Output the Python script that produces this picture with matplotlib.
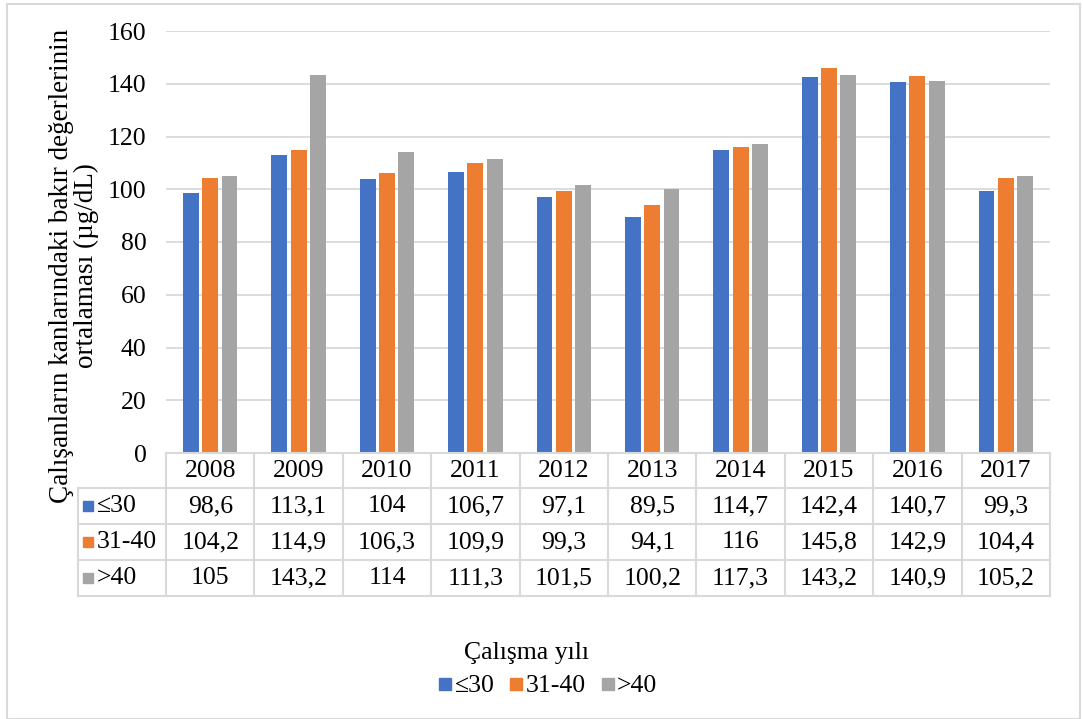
import matplotlib
matplotlib.use("Agg")
import matplotlib.pyplot as plt
from matplotlib.lines import Line2D
from matplotlib.patches import Rectangle
import matplotlib.transforms as mtransforms
import numpy as np

plt.rcParams['font.family'] = ['Liberation Serif', 'DejaVu Serif']

years = ["2008", "2009", "2010", "2011", "2012", "2013", "2014", "2015", "2016", "2017"]
series_names = ["≤30", "31-40", ">40"]
le30 = [98.6, 113.1, 104, 106.7, 97.1, 89.5, 114.7, 142.4, 140.7, 99.3]
g31_40 = [104.2, 114.9, 106.3, 109.9, 99.3, 94.1, 116, 145.8, 142.9, 104.4]
gt40 = [105, 143.2, 114, 111.3, 101.5, 100.2, 117.3, 143.2, 140.9, 105.2]
colors = ["#4472C4", "#ED7D31", "#A5A5A5"]
yticks = [0, 20, 40, 60, 80, 100, 120, 140, 160]

W, H = 1083, 719
fig = plt.figure(figsize=(W / 100, H / 100), dpi=100)
FS = 18.5
grid_c = "#d9d9d9"

# axes in pixel coordinates
x0, x1, ytop, ybot = 166, 1050, 31, 453
ax = fig.add_axes([x0 / W, 1 - ybot / H, (x1 - x0) / W, (ybot - ytop) / H])

series = [le30, g31_40, gt40]
x = np.arange(len(years))
bw = 0.18
step = 0.218
for i, (vals, c) in enumerate(zip(series, colors)):
    ax.bar(x + (i - 1) * step, vals, width=bw, color=c, zorder=3, linewidth=0)

ax.set_xlim(-0.5, len(years) - 0.5)
ax.set_ylim(0, 160)
ax.set_yticks(yticks)
ax.set_yticklabels([str(t) for t in yticks], fontsize=FS)
ax.tick_params(axis='y', length=0, pad=14)
ax.set_xticks([])
for s in ax.spines.values():
    s.set_visible(False)
ax.grid(axis='y', color=grid_c, linewidth=1.3, zorder=0)

# y label
fig.text(74 / W, 1 - 266 / H,
         "Çalışanların kanlarındaki bakır değerlerinin\nortalaması (µg/dL)",
         rotation=90, ha='center', va='center', fontsize=19.5, linespacing=1.0,
         multialignment='center')

# data table
trans = mtransforms.blended_transform_factory(ax.transData, ax.transAxes)
axh = ybot - ytop
row_px = [453, 488, 524, 560, 596]
row_y = [-(r - ybot) / axh for r in row_px]
n = len(years)
lw = 1.5
ax.add_line(Line2D([-0.5, n - 0.5], [row_y[0]] * 2, transform=trans, color=grid_c, lw=lw, clip_on=False, zorder=4))
for ry in row_y[1:]:
    ax.add_line(Line2D([-1.5, n - 0.5], [ry] * 2, transform=trans, color=grid_c, lw=lw, clip_on=False))
for k in range(n + 1):
    ax.add_line(Line2D([k - 0.5] * 2, [row_y[0], row_y[-1]], transform=trans, color=grid_c, lw=lw, clip_on=False))
ax.add_line(Line2D([-1.5] * 2, [row_y[1], row_y[-1]], transform=trans, color=grid_c, lw=lw, clip_on=False))

def fmt(v):
    return f"{v:g}".replace('.', ',')

hy = (row_y[0] + row_y[1]) / 2
for k, yr in enumerate(years):
    ax.text(k, hy, yr, transform=trans, ha='center', va='center', fontsize=FS, clip_on=False)
for r, (vals, name, c) in enumerate(zip(series, series_names, colors)):
    cy = (row_y[r + 1] + row_y[r + 2]) / 2
    for k, v in enumerate(vals):
        ax.text(k, cy, fmt(v), transform=trans, ha='center', va='center', fontsize=FS, clip_on=False)
    ax.add_line(Line2D([-1.38], [cy], transform=trans, marker='s', markersize=7.5,
                       color=c, linestyle='none', clip_on=False))
    ax.text(-1.285, cy, name, transform=trans, ha='left', va='center', fontsize=FS, clip_on=False)

# x-axis title
fig.text(527 / W, 1 - 653 / H, "Çalışma yılı", ha='center', va='center', fontsize=FS)

# legend
handles = [Line2D([], [], marker='s', markersize=8, color=c, linestyle='none') for c in colors]
fig.legend(handles, series_names, loc='center', bbox_to_anchor=(548 / W, 1 - 686 / H),
           ncol=3, frameon=False, fontsize=FS, handlelength=0.5, handletextpad=0.12,
           columnspacing=0.6, borderpad=0)

# chart border
fig.add_artist(Rectangle((7 / W, 0 / H), (1080 - 7) / W, (717 - 2) / H, transform=fig.transFigure,
                         fill=False, edgecolor=grid_c, lw=1.5))

fig.savefig("out.png", dpi=100)
